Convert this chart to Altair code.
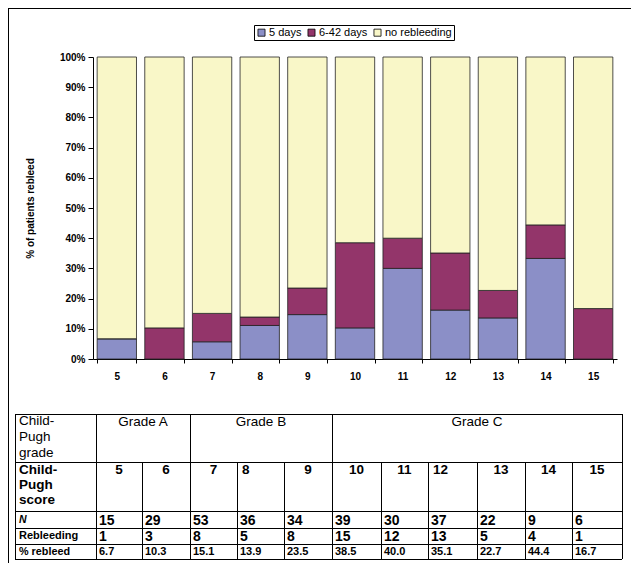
import altair as alt
import pandas as pd

# ---------------- data ----------------
scores = [5, 6, 7, 8, 9, 10, 11, 12, 13, 14, 15]
five_days = [6.7, 0.0, 5.7, 11.1, 14.7, 10.3, 30.0, 16.2, 13.6, 33.3, 0.0]
six_to_42 = [0.0, 10.3, 9.4, 2.8, 8.8, 28.2, 10.0, 18.9, 9.1, 11.1, 16.7]
categories = ["5 days", "6-42 days", "no rebleeding"]
colors = ["#8b8fc7", "#93356a", "#f9f7c8"]

n_patients = [15, 29, 53, 36, 34, 39, 30, 37, 22, 9, 6]
rebleeding = [1, 3, 8, 5, 8, 15, 12, 13, 5, 4, 1]
pct_rebleed = ["6.7", "10.3", "15.1", "13.9", "23.5", "38.5", "40.0", "35.1", "22.7", "44.4", "16.7"]
grades = ["Grade A", "Grade B", "Grade C"]
grade_spans = [(0, 2), (2, 5), (5, 11)]  # score-column index ranges

FONT = "Liberation Sans"

# ---------------- layout (page pixels) ----------------
PX0, PY0, W, H = 93, 57, 524, 302
col_edges = [15, 96, 142, 190, 237, 284, 332, 381, 428, 477, 525, 572, 622]
row_edges = [414, 462, 511, 528, 544, 559]

PXS = alt.Scale(domain=[PX0, PX0 + W], range=[0, W], nice=False, zero=False)
PYS = alt.Scale(domain=[PY0, PY0 + H], range=[0, H], nice=False, zero=False)

# ---------------- bars ----------------
rows = []
for i, s in enumerate(scores):
    vals = [five_days[i], six_to_42[i], 100 - five_days[i] - six_to_42[i]]
    for k, c in enumerate(categories):
        rows.append({"score": s, "cat": c, "value": vals[k], "ord": k})
bars_df = pd.DataFrame(rows)

bars = alt.Chart(bars_df).mark_bar(stroke="#222222", strokeWidth=0.8).encode(
    x=alt.X("score:O", title=None,
            scale=alt.Scale(paddingInner=0.174, paddingOuter=0.087),
            axis=alt.Axis(labelAngle=0, tickBand="extent", tickSize=4, labelPadding=8,
                          labelFontSize=10, labelFontWeight="bold", domainColor="black",
                          tickColor="black", labelColor="black")),
    y=alt.Y("value:Q", stack="zero", title="% of patients rebleed",
            scale=alt.Scale(domain=[0, 100], nice=False),
            axis=alt.Axis(values=list(range(0, 101, 10)), labelExpr="datum.value + '%'",
                          grid=False, tickSize=5, labelPadding=3, labelFontSize=10,
                          labelFontWeight="bold", domainColor="black", tickColor="black",
                          labelColor="black", titleFontSize=10, titleFontWeight="bold",
                          titleColor="black", titlePadding=24)),
    color=alt.Color("cat:N", scale=alt.Scale(domain=categories, range=colors),
                    legend=alt.Legend(orient="none", legendX=161, legendY=-32,
                                      direction="horizontal", title=None,
                                      symbolType="square", symbolSize=50,
                                      symbolStrokeColor="black", symbolStrokeWidth=0.8,
                                      labelFontSize=11, labelFont=FONT, labelColor="black",
                                      strokeColor="black", padding=2, columnPadding=4,
                                      labelOffset=2, fillColor="white")),
    order=alt.Order("ord:Q", sort="ascending"),
)

# ---------------- table ----------------
def hline_df():
    out = []
    for y in row_edges:
        out.append({"x1": col_edges[0], "x2": col_edges[-1], "y1": y + 0.5, "y2": y + 0.5})
    return pd.DataFrame(out)

def vline_df():
    out = []
    full = {col_edges[0], col_edges[1], col_edges[3], col_edges[6], col_edges[-1]}
    for x in col_edges:
        top = row_edges[0] if x in full else row_edges[1]
        out.append({"x1": x + 0.5, "y1": top, "y2": row_edges[-1]})
    return pd.DataFrame(out)

hl = alt.Chart(hline_df()).mark_rule(color="black", strokeWidth=1).encode(
    x=alt.X("x1:Q", scale=PXS, axis=None), x2="x2:Q",
    y=alt.Y("y1:Q", scale=PYS, axis=None))
vl = alt.Chart(vline_df()).mark_rule(color="black", strokeWidth=1).encode(
    x=alt.X("x1:Q", scale=PXS, axis=None),
    y=alt.Y("y1:Q", scale=PYS, axis=None), y2="y2:Q")

frame_h = alt.Chart(pd.DataFrame([{"x1": 8, "x2": 640, "y1": 8.5}])).mark_rule(
    color="black", strokeWidth=1).encode(
    x=alt.X("x1:Q", scale=PXS, axis=None), x2="x2:Q",
    y=alt.Y("y1:Q", scale=PYS, axis=None))
frame_v = alt.Chart(pd.DataFrame([{"x1": 8.5, "y1": 8, "y2": 571}])).mark_rule(
    color="black", strokeWidth=1).encode(
    x=alt.X("x1:Q", scale=PXS, axis=None),
    y=alt.Y("y1:Q", scale=PYS, axis=None), y2="y2:Q")

def text_layer(items, align="left", weight="normal", size=13.5, style="normal"):
    df = pd.DataFrame(items, columns=["px", "py", "t"])
    return alt.Chart(df).mark_text(align=align, baseline="middle", font=FONT,
                                   fontWeight=weight, fontSize=size, fontStyle=style,
                                   color="black").encode(
        x=alt.X("px:Q", scale=PXS, axis=None),
        y=alt.Y("py:Q", scale=PYS, axis=None),
        text="t:N")

lab_x = col_edges[0] + 4
grade_lab = text_layer([(lab_x, 421, "Child-"), (lab_x, 437, "Pugh"), (lab_x, 453, "grade")])
grade_txt = text_layer([((col_edges[a + 1] + col_edges[b + 1]) / 2, 422, g)
                        for g, (a, b) in zip(grades, grade_spans)], align="center")
score_lab = text_layer([(lab_x, 470, "Child-"), (lab_x, 485, "Pugh"), (lab_x, 500, "score")],
                       weight="bold")
center_scores, left_scores = [], []
for i, s in enumerate(scores):
    l, r = col_edges[i + 1], col_edges[i + 2]
    if s in (8, 12):
        left_scores.append((l + 5, 470, str(s)))
    else:
        center_scores.append(((l + r) / 2, 470, str(s)))
score_c = text_layer(center_scores, align="center", weight="bold")
score_l = text_layer(left_scores, weight="bold")

y_n, y_r, y_p = 519.5, 536, 552
n_lab = text_layer([(lab_x, y_n, "N")], weight="bold", size=10.5, style="italic")
r_lab = text_layer([(lab_x, y_r, "Rebleeding")], weight="bold", size=11)
p_lab = text_layer([(lab_x, y_p, "% rebleed")], weight="bold", size=10.8)
n_vals = text_layer([(col_edges[i + 1] + 3, y_n + 1, str(v)) for i, v in enumerate(n_patients)],
                    weight="bold", size=14)
r_vals = text_layer([(col_edges[i + 1] + 3, y_r + 1, str(v)) for i, v in enumerate(rebleeding)],
                    weight="bold", size=14)
p_vals = text_layer([(col_edges[i + 1] + 3, y_p, v) for i, v in enumerate(pct_rebleed)],
                    weight="bold", size=11)

table = alt.layer(hl, vl, frame_h, frame_v, grade_lab, grade_txt, score_lab, score_c, score_l,
                  n_lab, r_lab, p_lab, n_vals, r_vals, p_vals)

chart = alt.layer(bars, table).resolve_scale(x="independent", y="independent").properties(
    width=W, height=H,
    padding={"left": PX0 - 8, "top": PY0 - 8, "right": 623 - (PX0 - 8) - W,
             "bottom": 555 - (PY0 - 8) - H},
    autosize=alt.AutoSizeParams(type="none"),
).configure_view(stroke=None).configure_axis(labelFont=FONT, titleFont=FONT)

chart.save("out.html", embed_options={"renderer": "svg", "actions": False})
